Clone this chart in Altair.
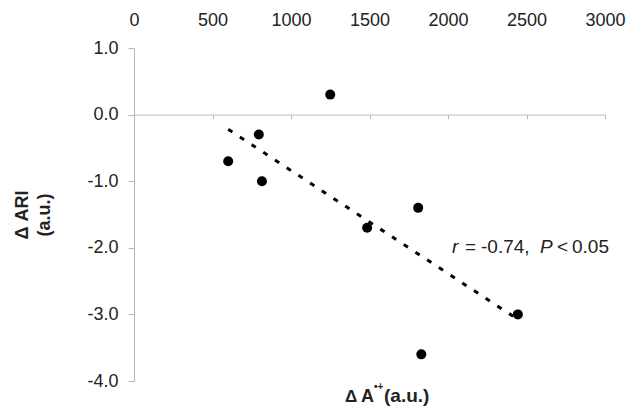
import altair as alt
import pandas as pd

# ---- data ----
x_vals = [600, 795, 815, 1250, 1485, 1810, 1830, 2445]
y_vals = [-0.7, -0.3, -1.0, 0.3, -1.7, -1.4, -3.6, -3.0]
x_ticks = [0, 500, 1000, 1500, 2000, 2500, 3000]
y_ticks = [-4, -3, -2, -1, 0, 1]
y_title = ["Δ ARI", "(a.u.)"]
stat_parts = ["r", "=", "-0.74,", "P", "<", "0.05"]
stat_italic = [True, False, False, True, False, False]

df = pd.DataFrame({"x": x_vals, "y": y_vals})

W, H = 471, 333
FONT = "Liberation Sans"
GREY = "#b8b8b8"
TXT = "#222222"
FS = 18

xscale = alt.Scale(domain=[0, 3000], nice=False, zero=False)
yscale = alt.Scale(domain=[-4, 1], nice=False, zero=False)

yaxis = alt.Axis(
    values=y_ticks,
    labelExpr="(datum.value < 0 ? '-' : '') + format(abs(datum.value), '.1f')",
    grid=False, domainColor=GREY, tickColor=GREY, tickSize=6,
    labelPadding=10, labelFontSize=FS, labelFont=FONT, labelColor=TXT,
    title=y_title, titleFontSize=18, titleFont=FONT, titleFontWeight="bold",
    titleColor=TXT, titlePadding=33, titleLineHeight=22,
)
top_axis = alt.Axis(
    orient="top", values=x_ticks, format="d", domain=False, ticks=False,
    tickSize=0, grid=False, labelPadding=23, labelBaseline="alphabetic",
    labelFontSize=FS, labelFont=FONT, labelColor=TXT, title=None,
    labelFlush=False, labelOverlap=False,
)
# horizontal axis line crossing at y = 0 (offset up from the bottom edge)
zero_axis = alt.Axis(
    orient="bottom", offset=-(H * 0.8), values=x_ticks, labels=False,
    tickSize=4, tickColor=GREY, domainColor=GREY, grid=False, title=None,
)

base = alt.Chart(df)

points = base.mark_circle(size=100, color="black", opacity=1).encode(
    x=alt.X("x:Q", scale=xscale, axis=top_axis),
    y=alt.Y("y:Q", scale=yscale, axis=yaxis),
)

trend = base.transform_regression("x", "y").mark_line(
    color="black", strokeWidth=3, strokeDash=[5, 9]
).encode(
    x=alt.X("x:Q", scale=xscale, axis=zero_axis),
    y=alt.Y("y:Q", scale=yscale, axis=yaxis),
)

layers = [trend, points]

# statistics annotation (pieces so r and P can be italic)
stat_x = [318, 331, 347, 406, 423, 438]
for txt, it, px in zip(stat_parts, stat_italic, stat_x):
    layers.append(
        alt.Chart(pd.DataFrame({"t": [txt]})).mark_text(
            align="left", baseline="alphabetic", font=FONT, fontSize=19,
            fontStyle="italic" if it else "normal", color=TXT,
        ).encode(x=alt.value(px), y=alt.value(205), text="t:N")
    )

# x-axis title with superscript radical-cation mark
x_title_parts = [
    ("Δ", 211, 354, 17),
    ("A", 227, 354, 18),
    ("•+", 240, 342, 10),
    ("(a.u.)", 250, 354, 19),
]
for txt, px, py, fs in x_title_parts:
    layers.append(
        alt.Chart(pd.DataFrame({"t": [txt]})).mark_text(
            align="left", baseline="alphabetic", font=FONT, fontSize=fs,
            fontWeight="bold", color=TXT,
        ).encode(x=alt.value(px), y=alt.value(py), text="t:N")
    )

chart = alt.layer(*layers).resolve_axis(x="independent").properties(
    width=W, height=H,
    background="white",
    autosize=alt.AutoSizeParams(type="none"),
    padding={"left": 126, "top": 40, "right": 24, "bottom": 26},
).configure_view(stroke=None)

chart.save("out.html", embed_options={"renderer": "svg", "actions": False})
